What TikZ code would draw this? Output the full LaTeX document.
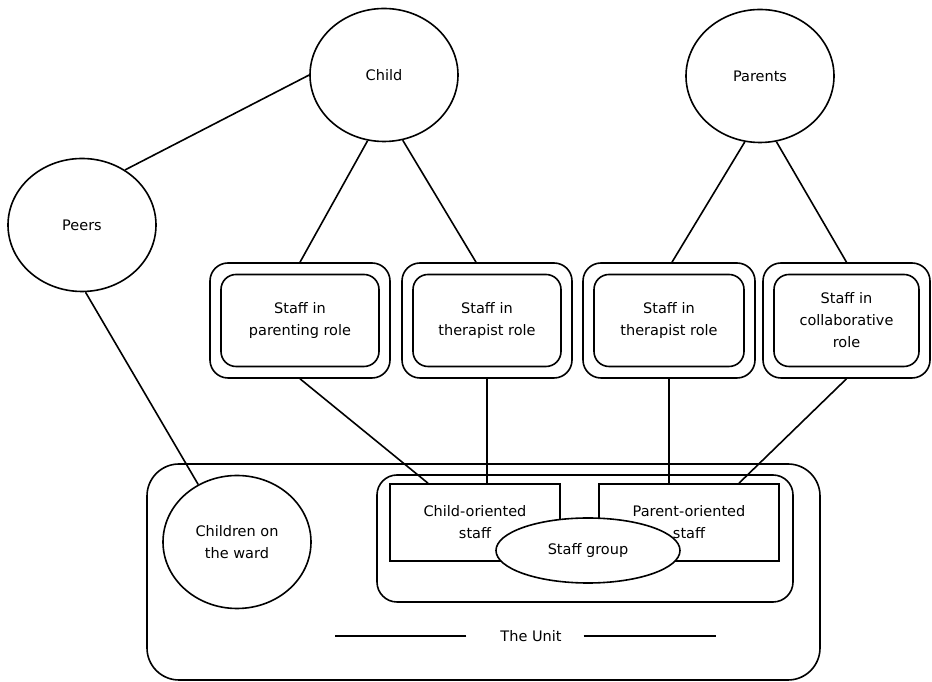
\documentclass[tikz,border=0pt]{standalone}
\usepackage{fontspec}
\setmainfont{DejaVu Sans}
\usetikzlibrary{shapes.geometric, calc}

\begin{document}
\begin{tikzpicture}[
    x=1pt, y=1pt,
    font=\fontsize{14.5}{22}\selectfont,
    line width=1.6pt,
    bulat/.style={draw, ellipse, minimum width=148pt, minimum height=133pt,
                  inner sep=0pt, align=center},
    bingkai/.style={draw, rounded corners=18pt, minimum height=115pt},
    kotak/.style={draw, rounded corners=15pt, minimum height=92pt, align=center},
    petak/.style={draw, minimum height=77pt, align=center}
  ]
    \useasboundingbox (0,0) rectangle (932,682);

    % lingkaran atas
    \node[bulat] (child) at (384,607) {Child};
    \node[bulat] (parents) at (760,606) {Parents};
    \node[bulat] (peers) at (82,457) {Peers};

    % kotak peran staf
    \foreach \i/\x/\w/\teks in {1/300/180/{Staff in\\parenting role},
                                2/487/170/{Staff in\\therapist role},
                                3/669/172/{Staff in\\therapist role},
                                4/846.5/167/{Staff in\\collaborative\\role}} {
      \node[bingkai, minimum width=\w pt] (b\i) at (\x,361.5) {};
      \node[kotak, minimum width={(\w-22)*1pt}] (r\i) at (b\i.center) {\teks};
    }

    % unit
    \node[draw, rounded corners=32pt, minimum width=673pt, minimum height=216pt] (unit) at (483.5,110) {};
    \node[draw, rounded corners=20pt, minimum width=416pt, minimum height=127pt] (staf) at (585,143.5) {};
    \node[petak, minimum width=170pt] (co) at (475,159.5) {Child-oriented\\staff};
    \node[petak, minimum width=180pt] (po) at (689,159.5) {Parent-oriented\\staff};
    \node[draw, ellipse, fill=white, minimum width=184pt, minimum height=65pt,
          inner sep=0pt] (grup) at (588,131.5) {Staff group};
    \node[bulat] (ward) at (237,140) {Children on\\the ward};
    \node (unitlbl) at (531,46) {The Unit};
    \draw (unitlbl.west) ++(-30,0) -- ++(-131,0);
    \draw (unitlbl.east) ++(18,0) -- ++(132,0);

    % garis hubung
    \draw (child.west) -- (peers.52);
    \draw (child.-104) -- (b1.north);
    \draw (child.-74) -- ([xshift=-11pt]b2.north);
    \draw (parents.-103) -- ([xshift=3pt]b3.north);
    \draw (parents.-76) -- (b4.north);
    \draw (peers.-87) -- (ward.124);
    \draw (b1.south) -- ([xshift=-47pt]co.north);
    \draw (b2.south) -- (b2.south |- co.north);
    \draw (b3.south) -- (b3.south |- po.north);
    \draw (b4.south) -- ([xshift=50pt]po.north);
  \end{tikzpicture}
\end{document}
